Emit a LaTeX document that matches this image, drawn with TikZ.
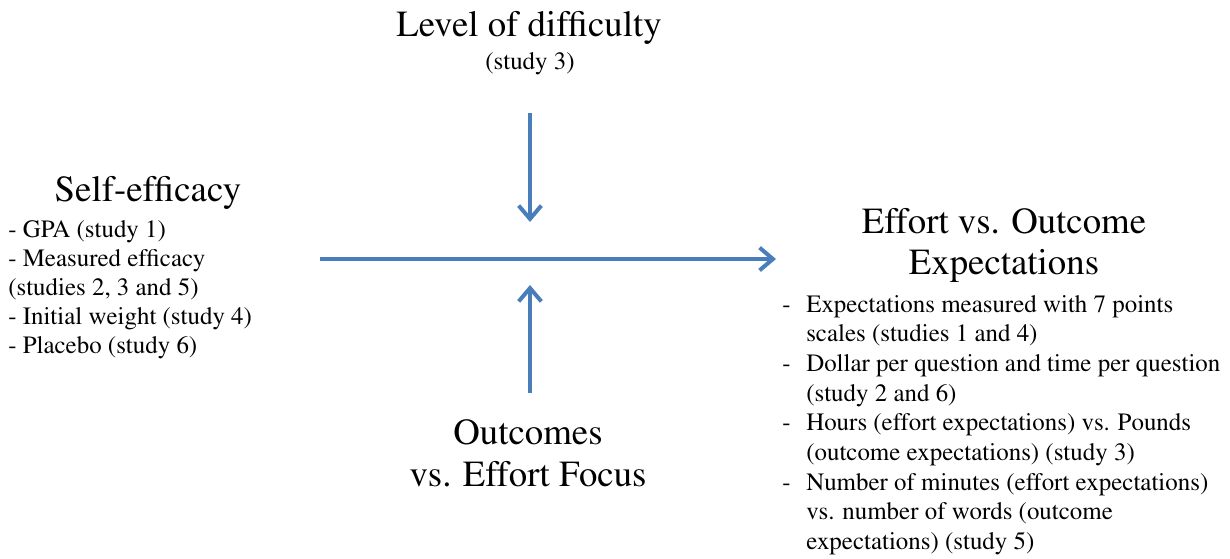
\documentclass[tikz,border=0pt]{standalone}
\usepackage[T1]{fontenc}
\usepackage{times}
\usetikzlibrary{arrows.meta}
\definecolor{arrowblue}{HTML}{4A7EBB}
\begin{document}
\begin{tikzpicture} [
        x=0.75pt, y=-0.75pt,
        title/.style={font=\fontsize{27.6}{33}\selectfont, inner sep=0pt, anchor=base},
        note/.style={font=\fontsize{18.7}{22}\selectfont, inner sep=0pt, anchor=base west},
        link/.style={draw=arrowblue, line width=3pt, -{Straight Barb[length=10pt,width=17pt]}} ]
    \useasboundingbox (0,0) rectangle (1230,558);

    % top: moderator
    \node[title] (diff) at (529,36) {Level of difficulty};
    \node[note, anchor=base] (diffnote) at (530,69) {(study 3)};

    % left: predictor
    \node[title] (self) at (148,201) {Self-efficacy};
    \foreach \txt [count=\i from 0] in {- GPA (study 1), - Measured efficacy,
        {(studies 2, 3 and 5)}, - Initial weight (study 4), - Placebo (study 6)}
        \node[note] (self-\i) at (8,{237+29*\i}) {\txt};

    % right: outcome
    \node[title] (effort) at (1004,233) {Effort vs. Outcome};
    \node[title] (expect) at (1004,274) {Expectations};
    \foreach \txt [count=\i from 0] in {Expectations measured with 7 points,
        scales (studies 1 and 4), Dollar per question and time per question,
        (study 2 and 6), Hours (effort expectations) vs. Pounds,
        (outcome expectations) (study 3), Number of minutes (effort expectations),
        vs. number of words (outcome, expectations) (study 5)}
        \node[note] (eff-\i) at (806,{312+29.7*\i}) {\txt};
    \foreach \i in {0,2,4,6}
        \node[note] (dash-\i) at (782,{312+29.7*\i}) {-};

    % bottom: moderator
    \node[title] (focus) at (528,444) {Outcomes};
    \node[title] (focus2) at (528,486) {vs. Effort Focus};

    % connectors
    \coordinate (hstart) at (320,259);
    \coordinate (hend) at (776,259);
    \coordinate (dtop) at (530,113);
    \coordinate (dtip) at (530,222);
    \coordinate (ubot) at (530,393);
    \coordinate (utip) at (530,285);
    \draw[link] (hstart) -- (hend);
    \draw[link] (dtop) -- (dtip);
    \draw[link] (ubot) -- (utip);
\end{tikzpicture}
\end{document}
